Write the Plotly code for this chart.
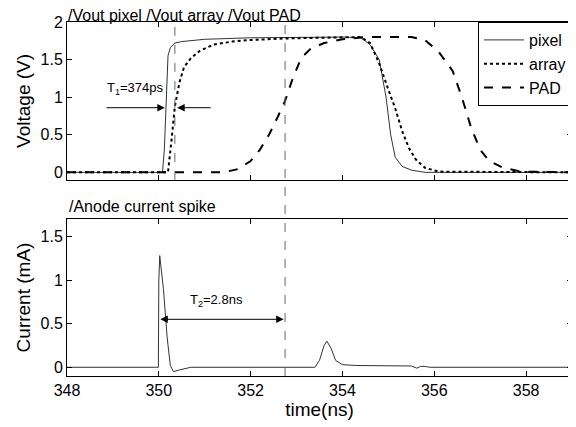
import plotly.graph_objects as go

# voltage traces (ns, V)
t_pixel = [348, 350.08, 350.12, 350.16, 350.2, 350.25, 350.35, 350.5, 351, 352, 353, 354,
           354.4, 354.6, 354.8, 354.95, 355.05, 355.15, 355.3, 355.5, 355.8, 359]
v_pixel = [0, 0, 0.3, 1.0, 1.55, 1.66, 1.72, 1.74, 1.77, 1.79, 1.8, 1.8,
           1.79, 1.7, 1.5, 1.0, 0.5, 0.2, 0.08, 0.03, 0, 0]

t_array = [348, 350.2, 350.28, 350.35, 350.45, 350.55, 350.7, 350.9, 351.2, 351.6, 352, 352.7,
           353.5, 354.4, 354.6, 354.8, 355.0, 355.15, 355.3, 355.45, 355.6, 355.8, 356.1, 359]
v_array = [0, 0, 0.45, 0.88, 1.2, 1.4, 1.52, 1.62, 1.7, 1.74, 1.76, 1.78,
           1.79, 1.8, 1.72, 1.45, 1.1, 0.85, 0.55, 0.32, 0.17, 0.06, 0.01, 0]

t_pad = [348, 351.4, 351.7, 352.0, 352.2, 352.4, 352.6, 352.75, 352.9, 353.1, 353.3, 353.6,
         354.0, 354.5, 355.5, 355.8, 356.1, 356.4, 356.6, 356.8, 357.0, 357.2, 357.5, 357.9, 359]
v_pad = [0, 0, 0.04, 0.15, 0.3, 0.5, 0.75, 0.95, 1.22, 1.52, 1.64, 1.72,
         1.77, 1.8, 1.8, 1.76, 1.6, 1.35, 1.0, 0.6, 0.3, 0.15, 0.06, 0.01, 0]

# anode current (ns, mA)
t_cur = [348, 349.99, 350.0, 350.02, 350.1, 350.18, 350.25, 350.32, 350.45, 350.7, 353.4, 353.5,
         353.6, 353.66, 353.75, 353.85, 354.0, 354.3, 355.5, 355.62, 355.7, 355.8, 355.9, 356.0, 359]
i_cur = [0, 0, 1.0, 1.28, 0.9, 0.35, 0.02, -0.05, -0.03, 0, 0, 0.08,
         0.25, 0.3, 0.22, 0.08, 0.03, 0.02, 0.015, -0.01, 0.01, 0.01, 0, 0, 0]

x_ticks = [348, 350, 352, 354, 356, 358]
t1_line = 350.35
t2_line = 352.75

FONT = "Liberation Sans, Arial, sans-serif"

fig = go.Figure()

fig.add_trace(go.Scatter(x=t_pixel, y=v_pixel, name="pixel", mode="lines",
                         line=dict(color="#333333", width=1), xaxis="x", yaxis="y"))
fig.add_trace(go.Scatter(x=t_array, y=v_array, name="array", mode="lines",
                         line=dict(color="black", width=2, dash="dot"), xaxis="x", yaxis="y"))
fig.add_trace(go.Scatter(x=t_pad, y=v_pad, name="PAD", mode="lines",
                         line=dict(color="black", width=2, dash="dash"), xaxis="x", yaxis="y"))
fig.add_trace(go.Scatter(x=t_cur, y=i_cur, name="current", mode="lines", showlegend=False,
                         line=dict(color="#333333", width=1), xaxis="x2", yaxis="y2"))

axis_common = dict(showline=True, linecolor="black", linewidth=1, mirror="ticks",
                   ticks="inside", ticklen=5, tickcolor="black", showgrid=False,
                   zeroline=False, tickfont=dict(size=16, color="black"))

# the page body has an 8px margin, so the figure is sized to land where the reference sits
fig.update_layout(
    width=568, height=419,
    margin=dict(l=59, r=4, t=14, b=51),
    paper_bgcolor="white", plot_bgcolor="white",
    font=dict(family=FONT, size=16, color="black"),
    xaxis=dict(domain=[0, 1], range=[348, 359], anchor="y", tickvals=x_ticks,
               showticklabels=False, **axis_common),
    yaxis=dict(domain=[0.554, 1], range=[-0.1, 2], tickvals=[0, 0.5, 1, 1.5, 2],
               ticktext=["0", "0.5", "1", "1.5", "2"],
               title=dict(text="Voltage (V)", standoff=4), **axis_common),
    xaxis2=dict(domain=[0, 1], range=[348, 359], anchor="y2", tickvals=x_ticks,
                title=dict(text="time(ns)", standoff=2), **axis_common),
    yaxis2=dict(domain=[0, 0.4435], range=[-0.1, 1.7], tickvals=[0, 0.5, 1, 1.5],
                ticktext=["0", "0.5", "1", "1.5"],
                title=dict(text="Current (mA)", standoff=4), **axis_common),
    legend=dict(x=1, y=1, xanchor="right", yanchor="top", bgcolor="white",
                bordercolor="black", borderwidth=1, font=dict(size=16),
                tracegroupgap=0, itemwidth=40),
    showlegend=True,
)

# dashed marker lines
fig.add_shape(type="line", xref="x", yref="paper", x0=t1_line, x1=t1_line, y0=0.554, y1=1,
              line=dict(color="#666666", width=1, dash="dash"))
fig.add_shape(type="line", xref="x", yref="paper", x0=t2_line, x1=t2_line, y0=0, y1=1,
              line=dict(color="#666666", width=1, dash="dash"))

# titles above each panel
fig.add_annotation(text="/Vout pixel /Vout array /Vout PAD", xref="paper", yref="paper",
                   x=0, y=1, xanchor="left", yanchor="bottom", showarrow=False,
                   font=dict(size=16), yshift=-3, borderpad=0)
fig.add_annotation(text="/Anode current spike", xref="paper", yref="paper",
                   x=0, y=0.4435, xanchor="left", yanchor="bottom", showarrow=False,
                   font=dict(size=16), yshift=2)

# T1 arrows
fig.add_annotation(text="T<sub>1</sub>=374ps", xref="x", yref="y", x=349.5, y=1.12,
                   showarrow=False, font=dict(size=13))
fig.add_annotation(x=350.13, y=0.86, ax=348.83, ay=0.86, xref="x", yref="y",
                   axref="x", ayref="y", showarrow=True, arrowhead=2, arrowsize=1.5,
                   arrowwidth=1, arrowcolor="black", text="")
fig.add_annotation(x=350.4, y=0.86, ax=351.16, ay=0.86, xref="x", yref="y",
                   axref="x", ayref="y", showarrow=True, arrowhead=2, arrowsize=1.5,
                   arrowwidth=1, arrowcolor="black", text="")

# T2 double arrow
fig.add_annotation(text="T<sub>2</sub>=2.8ns", xref="x2", yref="y2", x=351.25, y=0.76,
                   showarrow=False, font=dict(size=13))
fig.add_annotation(x=t2_line - 0.03, y=0.55, ax=350.0, ay=0.55, xref="x2", yref="y2",
                   axref="x2", ayref="y2", showarrow=True, arrowhead=2, arrowsize=1.5,
                   arrowwidth=1, arrowcolor="black", arrowside="end+start", text="")

fig.write_html("out.html")
